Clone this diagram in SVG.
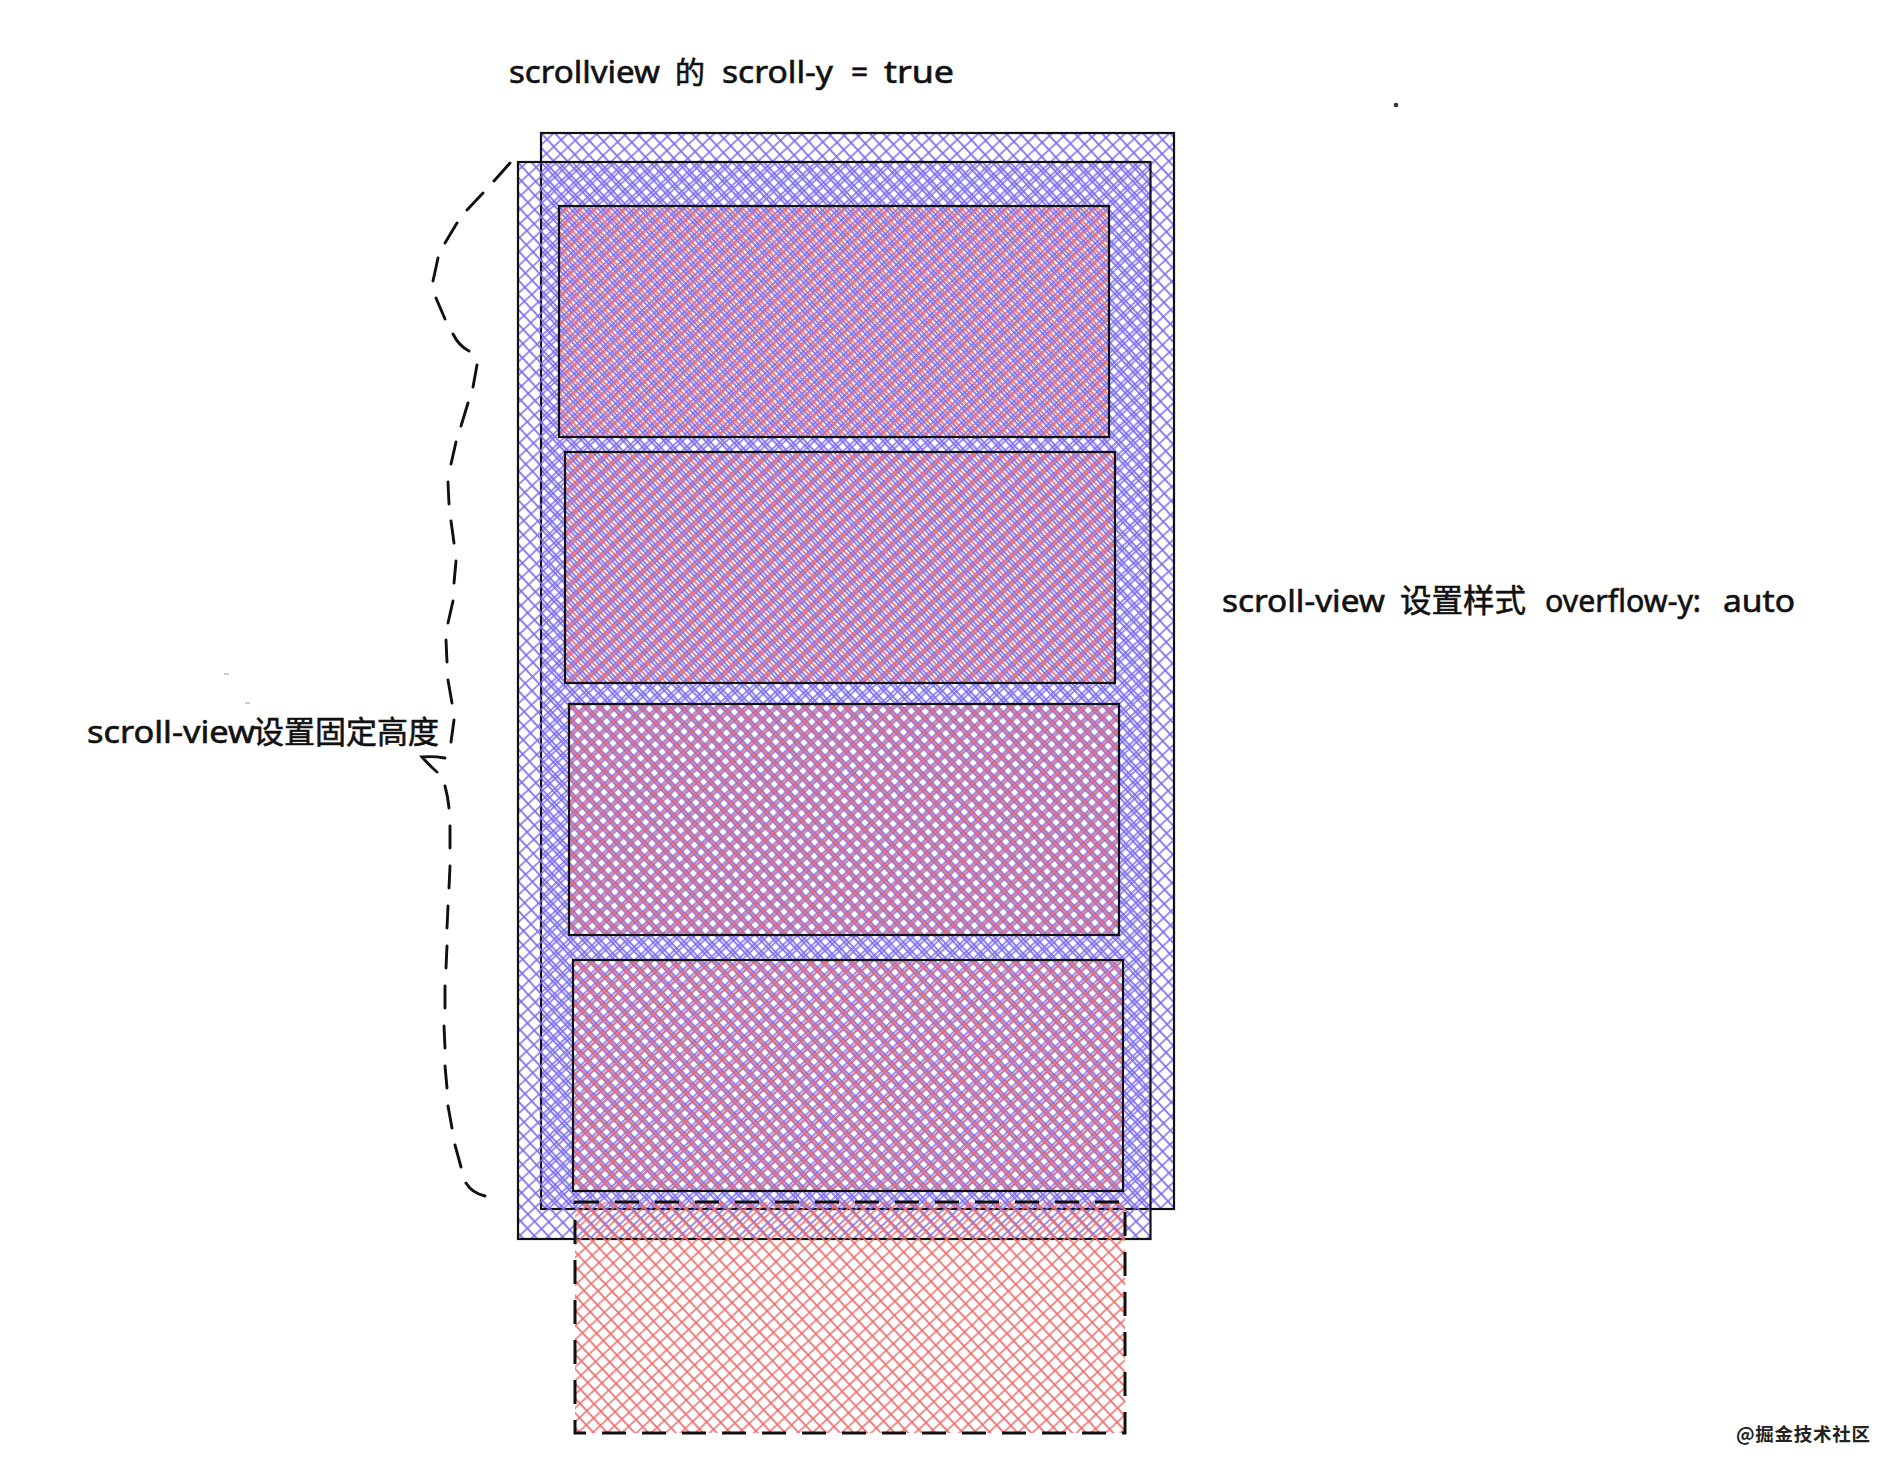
<svg xmlns="http://www.w3.org/2000/svg" width="1900" height="1470" viewBox="0 0 1900 1470">
<style>
.t{font-family:"Noto Sans","Noto Sans CJK SC",sans-serif;fill:#111;font-size:30px;stroke:#111;stroke-width:.6}
.c{font-family:"Noto Sans CJK SC",sans-serif}
.box{stroke:#111;stroke-width:2.2;fill:none}
.dash{stroke:#111;stroke-width:2.9;fill:none;stroke-linecap:round}
.dr{stroke:#111;stroke-width:3;fill:none;stroke-dasharray:24 16}
</style>
<defs>
<pattern id="bA" width="10" height="10" patternUnits="userSpaceOnUse" patternTransform="rotate(-43) translate(0 0)"><path d="M0 5H10M5 0V10" stroke="#7b6cf0" stroke-width="1.7" fill="none"/></pattern>
<pattern id="bB" width="10" height="10" patternUnits="userSpaceOnUse" patternTransform="rotate(-43) translate(3 3)"><path d="M0 5H10M5 0V10" stroke="#7b6cf0" stroke-width="1.7" fill="none"/></pattern>
<pattern id="r1" width="10" height="10" patternUnits="userSpaceOnUse" patternTransform="rotate(-43) translate(6 4.500)"><path d="M0 5H10M5 0V10" stroke="#ef6d6a" stroke-width="1.7" fill="none"/></pattern>
<pattern id="r2" width="10" height="10" patternUnits="userSpaceOnUse" patternTransform="rotate(-43) translate(6.500 1.500)"><path d="M0 5H10M5 0V10" stroke="#ef6d6a" stroke-width="1.7" fill="none"/></pattern>
<pattern id="r3" width="10" height="10" patternUnits="userSpaceOnUse" patternTransform="rotate(-43) translate(1.500 1.500)"><path d="M0 5H10M5 0V10" stroke="#ef6d6a" stroke-width="1.7" fill="none"/></pattern>
<pattern id="r4" width="10" height="10" patternUnits="userSpaceOnUse" patternTransform="rotate(-43) translate(1 2.500)"><path d="M0 5H10M5 0V10" stroke="#ef6d6a" stroke-width="1.7" fill="none"/></pattern>
<pattern id="r5" width="10" height="10" patternUnits="userSpaceOnUse" patternTransform="rotate(-43) translate(2 7)"><path d="M0 5H10M5 0V10" stroke="#ef6d6a" stroke-width="1.7" fill="none"/></pattern>
</defs>
<rect width="1900" height="1470" fill="#fff"/>
<g id="content-back"><rect class="box" x="541" y="133" width="633" height="1076" style="fill:url(#bA)"/></g>
<g id="scrollview-box"><rect class="box" x="518" y="162" width="632.500" height="1077" style="fill:url(#bB)"/></g>
<g id="item-1"><rect class="box" x="559" y="206" width="550" height="231" style="fill:url(#r1)"/></g>
<g id="item-2"><rect class="box" x="565" y="452" width="550" height="231" style="fill:url(#r2)"/></g>
<g id="item-3"><rect class="box" x="569" y="704" width="550" height="231" style="fill:url(#r3)"/></g>
<g id="item-4"><rect class="box" x="573" y="960" width="550" height="231" style="fill:url(#r4)"/></g>
<g id="item-5"><rect x="575" y="1202" width="550" height="231" style="fill:url(#r5)"/><rect class="dr" x="575" y="1202" width="550" height="231"/></g>
<g id="connectors">
<path class="dash" d="M510 163L494 181M483 193L467 210M457 223L445 243M438 258L433 281M436 298L445 319M453 334Q459 346 469 351"/>
<path class="dash" d="M477 365L473 387M468 403L461 426M456 442L451 464M448 482L449 504M451 521L454 543M456 561L454 583M453 601L448 623M446 640L447 662M448 680L452 703M454 720L451 742M445 786Q448 797 449 808M450 826V848M450 866L449 888M448 906L447 928M447 946L446 968M445 986V1008M444 1026L445 1048M445 1066L447 1088M448 1106L452 1128M455 1145L461 1167M466 1183Q472 1193 485 1196"/>
<path class="dash" d="M445 758Q432 756 422 757Q430 766 437 772"/>
</g>
<g id="label-top"><text class="t" y="83"><tspan x="509" textLength="151" lengthAdjust="spacingAndGlyphs">scrollview</tspan><tspan class="c" x="675">的</tspan><tspan x="722" textLength="111" lengthAdjust="spacingAndGlyphs">scroll-y</tspan><tspan x="851">=</tspan><tspan x="884" textLength="70" lengthAdjust="spacingAndGlyphs">true</tspan></text></g>
<g id="label-right"><text class="t" y="612"><tspan x="1222" textLength="163" lengthAdjust="spacingAndGlyphs">scroll-view</tspan><tspan class="c" x="1400" style="font-size:31.500px">设置样式</tspan><tspan x="1545" textLength="156" lengthAdjust="spacingAndGlyphs">overflow-y:</tspan><tspan x="1723" textLength="72" lengthAdjust="spacingAndGlyphs">auto</tspan></text></g>
<g id="label-left"><text class="t" y="743"><tspan x="87" textLength="168" lengthAdjust="spacingAndGlyphs">scroll-view</tspan><tspan class="c" x="253" style="font-size:31px">设置固定高度</tspan></text></g>
<g id="specks">
<circle cx="1396" cy="105" r="2.300" fill="#333"/>
<path d="M224 674H229M245 703H250" stroke="#999" stroke-width="1.200"/>
</g>
<g id="watermark"><text y="1441" font-size="18.500" font-weight="700" fill="#222" style="font-family:'Noto Sans CJK SC',sans-serif" x="1736" textLength="134">@掘金技术社区</text></g>
</svg>
